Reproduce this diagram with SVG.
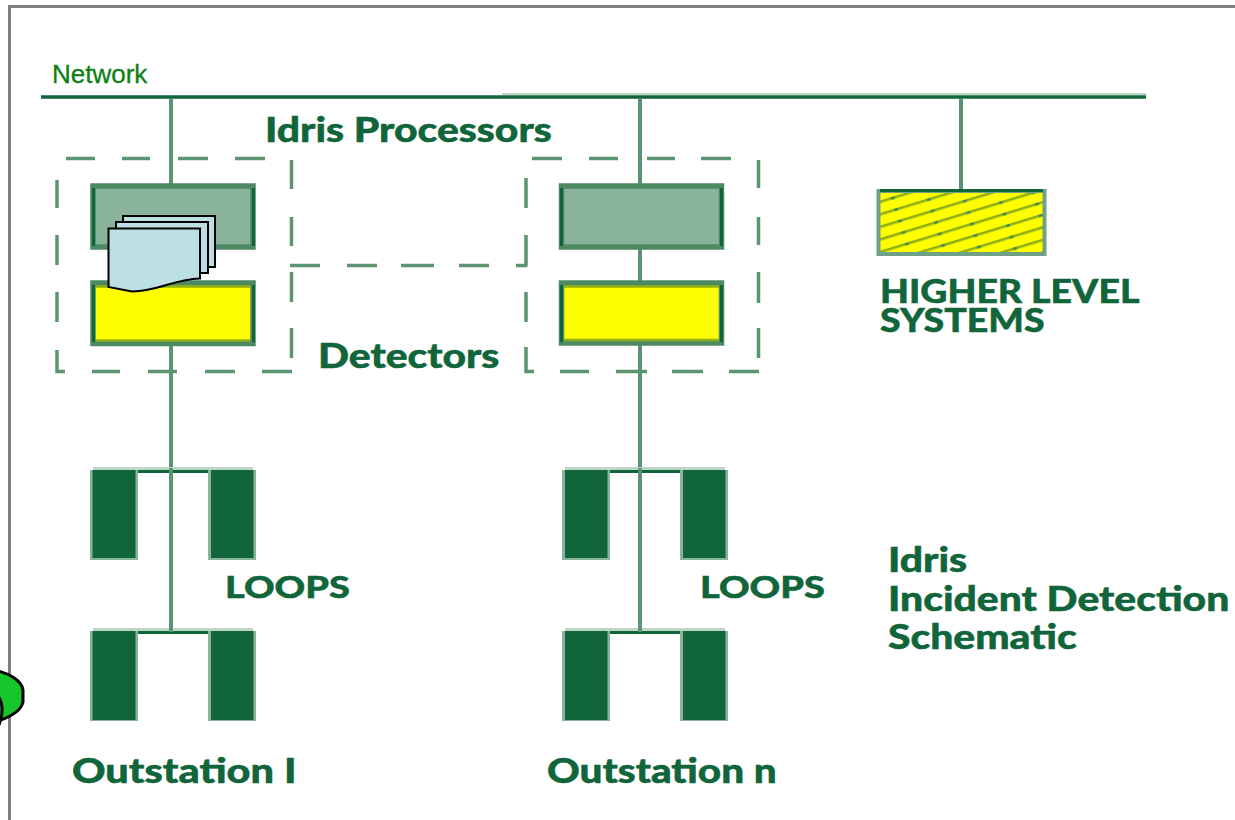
<svg xmlns="http://www.w3.org/2000/svg" width="1235" height="820" viewBox="0 0 1235 820">
<style>
.t{font-family:"Lato","Open Sans",sans-serif;font-weight:900;fill:#11653a;stroke:#11653a;stroke-width:.5}
.w{stroke:#5a9470;stroke-width:4;fill:none}
.d{stroke:#5a9470;stroke-width:3.500;fill:none}
.p{fill:#8ab39b;stroke:#4d8a64;stroke-width:5.500}
.y{fill:#ff0;stroke:#4d8a64;stroke-width:5.500}
.o{fill:none;stroke:#8fb015;stroke-width:2.500}
.e{fill:#11653a}
.l{fill:#11653a}
.m{fill:#8ab39b}
.bar{stroke:#11653a;stroke-width:3;fill:none}
.lt{stroke:#bcd5c6;stroke-width:3;fill:none}
.s{fill:#bbdfe2;stroke:#000;stroke-width:2}
</style>
<defs><pattern id="h" width="34" height="12" patternUnits="userSpaceOnUse" patternTransform="rotate(-17)"><rect width="34" height="12" fill="#ff0"/><rect y="5" width="34" height="2.600" fill="#8fb015"/><rect x="12" y="5" width="4" height="2.600" fill="#3f8a5c"/></pattern></defs>
<rect width="1235" height="820" fill="#fff"/>
<path d="M9.500 820V6.500H1235" fill="none" stroke="#808080" stroke-width="3"/>
<g id="dashed">
<path class="d" d="M66 158.500H95M122 158.500H150M178 158.500H208M235 158.500H265M57 180V208M57 235V265M57 292V322M57 350V371.500H65M92 371.500H120M148 371.500H177M205 371.500H235M262 371.500H292"/>
<path class="d" d="M291.500 160V189M291.500 217V246M291.500 272V302M291.500 328V358M290 265.500H320M347 265.500H377M401 265.500H434M459 265.500H489M516 265.500H527.500M526 178V208M526 235V265M526 292V322M526 347V371.500H534"/>
<path class="d" d="M532 158.500H562M589 158.500H618M647 158.500H675M701 158.500H731M758.500 160V188M758.500 217V245M758.500 272V303M758.500 328V358M560 371.500H589M616 371.500H647M672 371.500H703M729 371.500H759"/>
</g>
<g id="connectors">
<path class="lt" d="M502 94H1146" style="stroke-width:2"/>
<path d="M41 97H1146" stroke="#11653a" stroke-width="3.500" fill="none"/>
<path class="w" d="M171 99V185M171 345V632M640 99V185M640 248V282M640 345V632M961 99V190"/>
</g>
<g id="processor-1"><rect class="p" x="93" y="186" width="160" height="61"/><rect class="e" x="92" y="188" width="3" height="58"/><rect class="e" x="252" y="188" width="3" height="58"/></g>
<g id="detector-1"><rect class="y" x="93" y="283" width="160" height="60.500"/><path class="o" d="M96 286.500H250M96 340.500H250"/><rect class="e" x="92" y="285" width="3" height="57"/><rect class="e" x="252" y="285" width="3" height="57"/></g>
<g id="documents">
<rect class="s" x="123" y="216" width="92" height="51"/>
<rect class="s" x="116" y="222" width="92" height="51"/>
<path class="s" d="M108.500 228.500H200V278.500C174 279 160 291 132 291.500L108.500 287Z"/>
</g>
<g id="processor-n"><rect class="p" x="561.500" y="186" width="160" height="61"/><rect class="e" x="560" y="188" width="3" height="58"/><rect class="e" x="720" y="188" width="3" height="58"/></g>
<g id="detector-n"><rect class="y" x="561.500" y="283" width="160" height="60"/><path class="o" d="M564 286.500H719M564 340H719"/><rect class="e" x="560" y="285" width="3" height="57"/><rect class="e" x="720" y="285" width="3" height="57"/></g>
<g id="higher"><rect x="878.500" y="191" width="166" height="63" fill="url(#h)" stroke="#6fa186" stroke-width="4"/><rect class="e" x="880" y="189" width="163" height="3"/></g>
<g id="loops-1">
<path class="lt" d="M93 468.500H253M93 629.500H253"/>
<path class="bar" d="M93 471.500H253M93 632.500H253"/>
<path class="m" d="M90 470H138V560H90ZM208 470H256V560H208ZM90 631H138V721H90ZM208 631H256V721H208Z"/>
<path class="l" d="M92.500 470H135.500V558H92.500ZM211 470H253.500V558H211ZM92.500 631H135.500V720H92.500ZM211 631H253.500V720H211Z"/>
</g>
<g id="loops-n">
<path class="lt" d="M565 468.500H725M565 629.500H725"/>
<path class="bar" d="M565 471.500H725M565 632.500H725"/>
<path class="m" d="M562 470H610V560H562ZM680 470H728V560H680ZM562 631H610V721H562ZM680 631H728V721H680Z"/>
<path class="l" d="M565 470H607.500V558H565ZM683 470H725.500V558H683ZM565 631H607.500V720H565ZM683 631H725.500V720H683Z"/>
</g>
<path class="w" d="M171 468V632M640 468V632"/>
<g id="blob"><path d="M-2 671C10 674 22 681 23 690V702C21 711 10 717 -2 721Z" fill="#15c72b" stroke="#000" stroke-width="3"/><path d="M-2 696C3 703 3 714 -1 725" fill="none" stroke="#000" stroke-width="3"/></g>
<text x="52" y="83" font-family="Liberation Sans,sans-serif" font-size="26" fill="#0d8014" stroke="#0d8014" stroke-width=".3">Network</text>
<text class="t" font-size="34" transform="translate(265 142) scale(1.2 1)">Idris Processors</text>
<text class="t" font-size="34" transform="translate(318 368) scale(1.2 1)">Detectors</text>
<text class="t" font-size="33" transform="translate(880 303) scale(1.135 1)"><tspan x="0" y="0">HIGHER LEVEL</tspan><tspan x="0" y="29">SYSTEMS</tspan></text>
<text class="t" font-size="31" transform="translate(225 598) scale(1.22 1)">LOOPS</text>
<text class="t" font-size="31" transform="translate(700 598) scale(1.22 1)">LOOPS</text>
<text class="t" font-size="34" transform="translate(888 572) scale(1.2 1)"><tspan x="0" y="0">Idris</tspan><tspan x="0" y="39">Incident Detection</tspan><tspan x="0" y="77">Schematic</tspan></text>
<text class="t" font-size="34" transform="translate(72 783) scale(1.22 1)">Outstation I</text>
<text class="t" font-size="34" transform="translate(547 783) scale(1.19 1)">Outstation n</text>
</svg>
